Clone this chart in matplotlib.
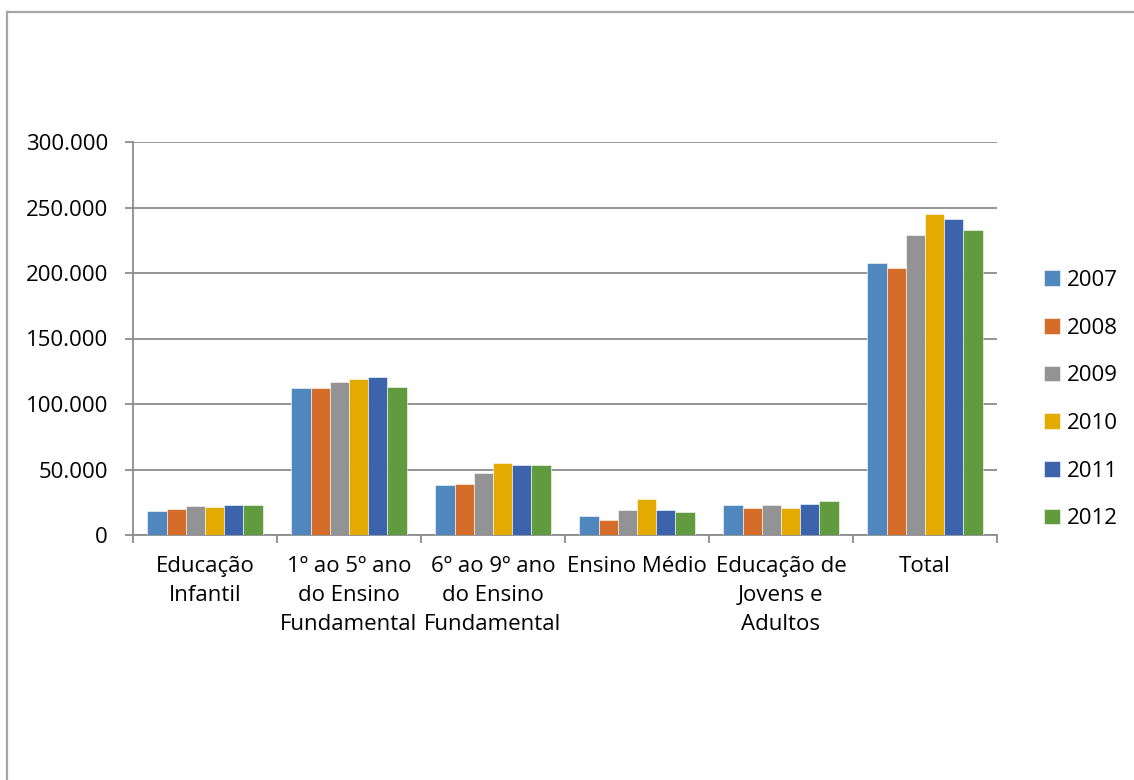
import numpy as np
import matplotlib
matplotlib.use("Agg")
import matplotlib.pyplot as plt
from matplotlib.lines import Line2D

plt.rcParams['font.family'] = ['Open Sans', 'DejaVu Sans']

# categorias e anos
categorias = ["Educação\nInfantil", "1º ao 5º ano\ndo Ensino\nFundamental",
              "6º ao 9º ano\ndo Ensino\nFundamental", "Ensino Médio",
              "Educação de\nJovens e\nAdultos", "Total"]
anos = ["2007", "2008", "2009", "2010", "2011", "2012"]

# valores (um array por ano)
v2007 = [18100, 112200, 38500, 14800, 23200, 207600]
v2008 = [20100, 112000, 39200, 11200, 20400, 204100]
v2009 = [22100, 116600, 47300, 18900, 23200, 229300]
v2010 = [21700, 119100, 55300, 27300, 20900, 245300]
v2011 = [23200, 120900, 53700, 19100, 23400, 241500]
v2012 = [22700, 113000, 53400, 17300, 25700, 233100]
valores = [v2007, v2008, v2009, v2010, v2011, v2012]

cores = ["#4F88BE", "#D46D2A", "#939393", "#E3AA00", "#3B64AD", "#629A3F"]
cinza = "#8C8C8C"

fig = plt.figure(figsize=(11.34, 7.80), dpi=100)
ax = fig.add_axes([133/1134, 1-535/780, 864/1134, 393/780])

x = np.arange(len(categorias))
w = 0.8 / len(anos)
for i, (ano, vals) in enumerate(zip(anos, valores)):
    ax.bar(x - 0.4 + w*(i+0.5), vals, width=w, color=cores[i], label=ano,
           edgecolor="white", linewidth=0.4, zorder=3)

ax.set_xlim(-0.5, len(categorias)-0.5)
ax.set_ylim(0, 300000)
ax.set_yticks(np.arange(0, 300001, 50000))
ax.set_yticklabels(["0" if t == 0 else f"{t:,.0f}".replace(",", ".") for t in np.arange(0, 300001, 50000)])
ax.yaxis.grid(True, color=cinza, linewidth=1.3, zorder=0)

ax.set_xticks(x)
ax.set_xticklabels(categorias, linespacing=1.5)
ax.set_xticks(np.arange(-0.5, len(categorias)), minor=True)
ax.tick_params(axis='x', which='major', length=0, pad=15, labelsize=16)
ax.tick_params(axis='x', which='minor', length=6, color=cinza, width=1.3)
ax.tick_params(axis='y', length=6, color=cinza, width=1.3, pad=12, labelsize=16)

for s in ["top", "right"]:
    ax.spines[s].set_visible(False)
for s in ["left", "bottom"]:
    ax.spines[s].set_color(cinza)
    ax.spines[s].set_linewidth(1.3)

leg = ax.legend(loc="upper left", bbox_to_anchor=(1044/1134, 1-270/780),
                bbox_transform=fig.transFigure, frameon=False, fontsize=16,
                handlelength=0.7, handleheight=0.7, handletextpad=0.35,
                labelspacing=1.2, borderpad=0, borderaxespad=0)

# moldura externa do grafico
fig.add_artist(Line2D([7/1134, 7/1134], [0, 1-12/780], color="#A6A6A6", linewidth=1.6))
fig.add_artist(Line2D([7/1134, 1], [1-12/780, 1-12/780], color="#A6A6A6", linewidth=1.6))

fig.savefig("out.png", dpi=100, facecolor="white")
